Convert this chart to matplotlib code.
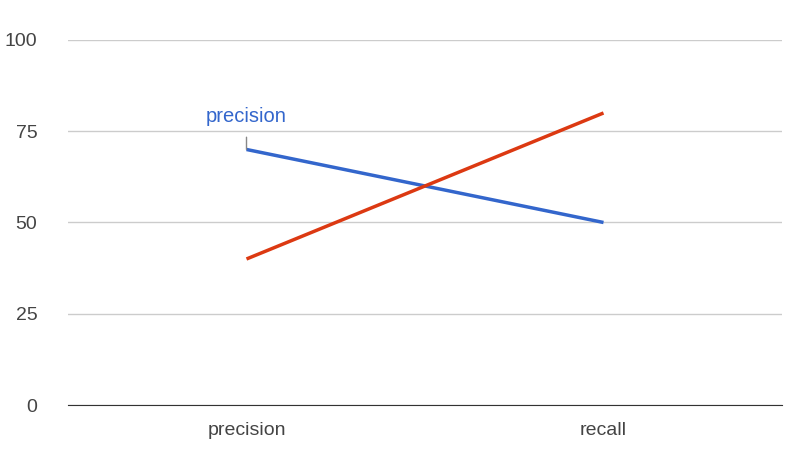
import matplotlib
matplotlib.use("Agg")
import matplotlib.pyplot as plt

categories = ["precision", "recall"]
series_blue = [70, 50]
series_red = [40, 80]
y_ticks = [0, 25, 50, 75, 100]

plt.rcParams["font.family"] = ["Liberation Sans", "DejaVu Sans"]

fig = plt.figure(figsize=(8, 4.68), dpi=100)
ax = fig.add_axes([0.085, 0.1346, 0.8925, 0.78])
x = list(range(len(categories)))
ax.plot(x, series_blue, color="#3366cc", linewidth=2.5, solid_capstyle="butt")
ax.plot(x, series_red, color="#dc3912", linewidth=2.5, solid_capstyle="butt")

ax.set_xlim(-0.5, 1.5)
ax.set_ylim(0, 100)
ax.set_yticks(y_ticks)
ax.set_xticks(x)
ax.set_xticklabels(categories)
ax.grid(axis="y", color="#cccccc", linewidth=1)
ax.set_axisbelow(True)
for side in ["top", "right", "left"]:
    ax.spines[side].set_visible(False)
ax.spines["bottom"].set_color("#333333")
ax.tick_params(length=0, labelsize=14, colors="#444444", pad=12)
ax.tick_params(axis="y", pad=22)

# leader annotation on first blue point
ax.annotate("precision", xy=(0, series_blue[0]), xytext=(0, series_blue[0] + 9),
            ha="center", va="center", color="#3366cc", fontsize=14.5,
            arrowprops=dict(arrowstyle="-", color="#888888", lw=1,
                            shrinkA=6, shrinkB=0))

fig.savefig("out.png", dpi=100)
